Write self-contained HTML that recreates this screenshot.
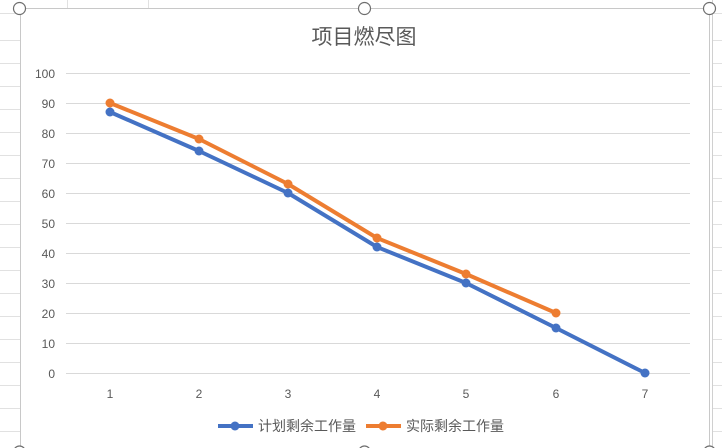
<!DOCTYPE html>
<html><head><meta charset="utf-8"><style>
html,body{margin:0;padding:0;width:722px;height:448px;overflow:hidden;background:#fff;}
svg{display:block}
text{font-family:"Liberation Sans","Noto Sans CJK SC",sans-serif;}
</style></head><body>
<svg width="722" height="448" xmlns="http://www.w3.org/2000/svg">
<g stroke="#e1e1e1" stroke-width="1">
<line x1="0" y1="13.5" x2="20" y2="13.5"/><line x1="0" y1="40.5" x2="20" y2="40.5"/><line x1="0" y1="63.5" x2="20" y2="63.5"/><line x1="0" y1="86.5" x2="20" y2="86.5"/><line x1="0" y1="109.5" x2="20" y2="109.5"/><line x1="0" y1="132.5" x2="20" y2="132.5"/><line x1="0" y1="155.5" x2="20" y2="155.5"/><line x1="0" y1="178.5" x2="20" y2="178.5"/><line x1="0" y1="201.5" x2="20" y2="201.5"/><line x1="0" y1="224.5" x2="20" y2="224.5"/><line x1="0" y1="247.5" x2="20" y2="247.5"/><line x1="0" y1="270.5" x2="20" y2="270.5"/><line x1="0" y1="293.5" x2="20" y2="293.5"/><line x1="0" y1="316.5" x2="20" y2="316.5"/><line x1="0" y1="339.5" x2="20" y2="339.5"/><line x1="0" y1="362.5" x2="20" y2="362.5"/><line x1="0" y1="385.5" x2="20" y2="385.5"/><line x1="0" y1="408.5" x2="20" y2="408.5"/><line x1="0" y1="431.5" x2="20" y2="431.5"/>
<line x1="712" y1="13.5" x2="722" y2="13.5"/><line x1="712" y1="40.5" x2="722" y2="40.5"/><line x1="712" y1="63.5" x2="722" y2="63.5"/><line x1="712" y1="86.5" x2="722" y2="86.5"/><line x1="712" y1="109.5" x2="722" y2="109.5"/><line x1="712" y1="132.5" x2="722" y2="132.5"/><line x1="712" y1="155.5" x2="722" y2="155.5"/><line x1="712" y1="178.5" x2="722" y2="178.5"/><line x1="712" y1="201.5" x2="722" y2="201.5"/><line x1="712" y1="224.5" x2="722" y2="224.5"/><line x1="712" y1="247.5" x2="722" y2="247.5"/><line x1="712" y1="270.5" x2="722" y2="270.5"/><line x1="712" y1="293.5" x2="722" y2="293.5"/><line x1="712" y1="316.5" x2="722" y2="316.5"/><line x1="712" y1="339.5" x2="722" y2="339.5"/><line x1="712" y1="362.5" x2="722" y2="362.5"/><line x1="712" y1="385.5" x2="722" y2="385.5"/><line x1="712" y1="408.5" x2="722" y2="408.5"/><line x1="712" y1="431.5" x2="722" y2="431.5"/>
<line x1="67.5" y1="0" x2="67.5" y2="8"/><line x1="148.5" y1="0" x2="148.5" y2="8"/>
</g>
<rect x="20.5" y="8.5" width="689" height="445" fill="#fff" stroke="#c8c8c8"/>
<line x1="712.5" y1="0" x2="712.5" y2="448" stroke="#d0d0d0"/>
<text x="364" y="44" font-size="21" fill="#595959" text-anchor="middle">项目燃尽图</text>
<g stroke="#d9d9d9" stroke-width="1">
<line x1="66" y1="73.5" x2="690" y2="73.5"/><line x1="66" y1="103.5" x2="690" y2="103.5"/><line x1="66" y1="133.5" x2="690" y2="133.5"/><line x1="66" y1="163.5" x2="690" y2="163.5"/><line x1="66" y1="193.5" x2="690" y2="193.5"/><line x1="66" y1="223.5" x2="690" y2="223.5"/><line x1="66" y1="253.5" x2="690" y2="253.5"/><line x1="66" y1="283.5" x2="690" y2="283.5"/><line x1="66" y1="313.5" x2="690" y2="313.5"/><line x1="66" y1="343.5" x2="690" y2="343.5"/><line x1="66" y1="373.5" x2="690" y2="373.5"/>
</g>
<g font-size="12" fill="#595959" text-anchor="end">
<text x="55" y="78">100</text><text x="55" y="108">90</text><text x="55" y="138">80</text><text x="55" y="168">70</text><text x="55" y="198">60</text><text x="55" y="228">50</text><text x="55" y="258">40</text><text x="55" y="288">30</text><text x="55" y="318">20</text><text x="55" y="348">10</text><text x="55" y="378">0</text>
</g>
<g font-size="12" fill="#595959" text-anchor="middle">
<text x="110" y="398">1</text><text x="199" y="398">2</text><text x="288" y="398">3</text><text x="377" y="398">4</text><text x="466" y="398">5</text><text x="556" y="398">6</text><text x="645" y="398">7</text>
</g>
<polyline points="110,112 199,151 288,193 377,247 466,283 556,328 645,373" fill="none" stroke="#4472c4" stroke-width="4" stroke-linejoin="round"/>
<g fill="#4472c4"><circle cx="110" cy="112" r="4.5"/><circle cx="199" cy="151" r="4.5"/><circle cx="288" cy="193" r="4.5"/><circle cx="377" cy="247" r="4.5"/><circle cx="466" cy="283" r="4.5"/><circle cx="556" cy="328" r="4.5"/><circle cx="645" cy="373" r="4.5"/></g>
<polyline points="110,103 199,139 288,184 377,238 466,274 556,313" fill="none" stroke="#ed7d31" stroke-width="4" stroke-linejoin="round"/>
<g fill="#ed7d31"><circle cx="110" cy="103" r="4.5"/><circle cx="199" cy="139" r="4.5"/><circle cx="288" cy="184" r="4.5"/><circle cx="377" cy="238" r="4.5"/><circle cx="466" cy="274" r="4.5"/><circle cx="556" cy="313" r="4.5"/></g>
<line x1="218" y1="426" x2="253" y2="426" stroke="#4472c4" stroke-width="4"/><circle cx="235" cy="426" r="4.5" fill="#4472c4"/>
<text x="258" y="431" font-size="14" fill="#595959">计划剩余工作量</text>
<line x1="366" y1="426" x2="401" y2="426" stroke="#ed7d31" stroke-width="4"/><circle cx="383" cy="426" r="4.5" fill="#ed7d31"/>
<text x="406" y="431" font-size="14" fill="#595959">实际剩余工作量</text>
<g fill="#fff" stroke="#6e6e6e" stroke-width="1.2">
<circle cx="19.5" cy="8.5" r="6"/><circle cx="364.5" cy="8.5" r="6"/><circle cx="709.5" cy="8.5" r="6"/>
<circle cx="19.5" cy="452" r="6"/><circle cx="364.5" cy="452" r="6"/><circle cx="709.5" cy="452" r="6"/>
</g>
</svg>
</body></html>
